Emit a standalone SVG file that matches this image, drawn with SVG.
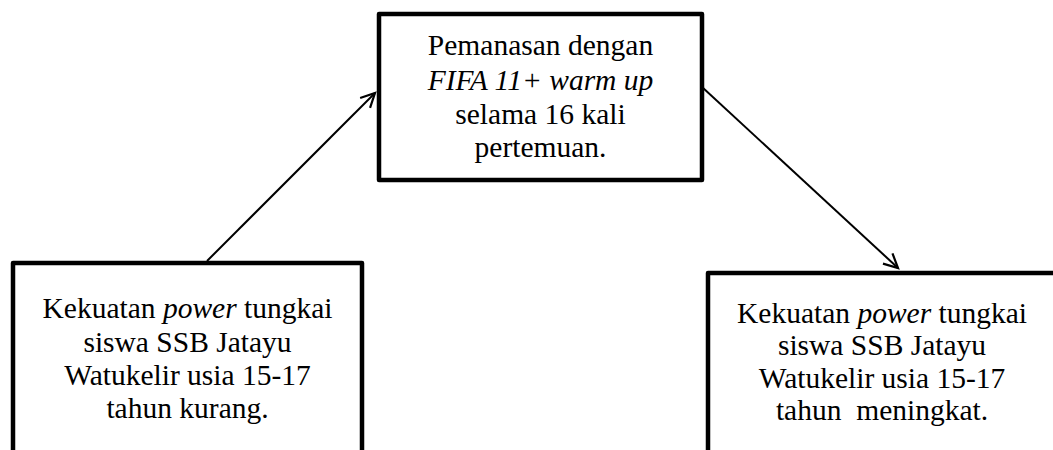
<svg xmlns="http://www.w3.org/2000/svg" width="1053" height="450" viewBox="0 0 1053 450">
<style>
.box{fill:#fff;stroke:#000;stroke-width:4.5;stroke-linejoin:round}
.t{font-family:"Liberation Serif","Times New Roman",serif;font-size:29.5px;fill:#000;text-anchor:middle}
.i{font-style:italic}
.c{stroke:#000;stroke-width:2;fill:none}
</style>
<defs>
<marker id="ah" markerWidth="20" markerHeight="20" refX="16" refY="8" orient="auto" markerUnits="userSpaceOnUse">
<path d="M2,1 L16,8 L2,15" fill="none" stroke="#000" stroke-width="2.2"/>
</marker>
</defs>
<rect width="1053" height="450" fill="#fff"/>
<g id="node-top">
<rect class="box" x="379" y="14" width="323" height="166"/>
<text class="t" x="540.5" y="55">Pemanasan dengan</text>
<text class="t i" x="540.5" y="90">FIFA 11+ warm up</text>
<text class="t" x="540.5" y="124">selama 16 kali</text>
<text class="t" x="540.5" y="157">pertemuan.</text>
</g>
<g id="node-left">
<rect class="box" x="13" y="263" width="349" height="200"/>
<text class="t" x="187.5" y="318">Kekuatan <tspan class="i">power</tspan> tungkai</text>
<text class="t" x="187.5" y="352">siswa SSB Jatayu</text>
<text class="t" x="187.5" y="385">Watukelir usia 15-17</text>
<text class="t" x="187.5" y="418">tahun kurang.</text>
</g>
<g id="node-right">
<rect class="box" x="708" y="273" width="360" height="200"/>
<text class="t" x="882" y="323">Kekuatan <tspan class="i">power</tspan> tungkai</text>
<text class="t" x="882" y="355">siswa SSB Jatayu</text>
<text class="t" x="882" y="388">Watukelir usia 15-17</text>
<text class="t" x="882" y="420" xml:space="preserve">tahun  meningkat.</text>
</g>
<g id="connectors">
<line class="c" x1="207" y1="261" x2="375" y2="93" marker-end="url(#ah)"/>
<line class="c" x1="702" y1="87" x2="898" y2="268" marker-end="url(#ah)"/>
</g>
</svg>
